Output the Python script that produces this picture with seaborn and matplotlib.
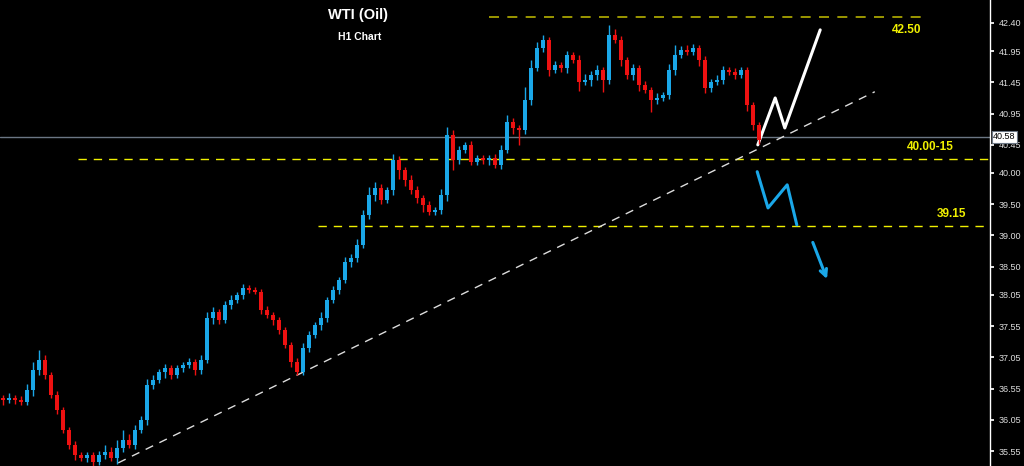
import numpy as np
import pandas as pd
import matplotlib
matplotlib.use('Agg')
import matplotlib.pyplot as plt
import seaborn as sns

sns.set_theme(style='dark')
plt.rcParams['font.family'] = ['Liberation Sans', 'DejaVu Sans']

# hourly closes
closes = [36.37, 36.40, 36.37, 36.34, 36.53, 36.85, 37.01, 36.77, 36.45, 36.21,
          35.89, 35.65, 35.49, 35.44, 35.49, 35.38, 35.49, 35.54, 35.44, 35.60,
          35.73, 35.65, 35.89, 36.05, 36.61, 36.69, 36.82, 36.88, 36.77, 36.88,
          36.93, 36.98, 36.85, 37.01, 37.68, 37.78, 37.65, 37.89, 37.97, 38.05,
          38.16, 38.13, 38.10, 37.81, 37.73, 37.65, 37.49, 37.25, 36.98, 36.82,
          37.20, 37.41, 37.57, 37.68, 37.97, 38.13, 38.29, 38.58, 38.64, 38.85,
          39.33, 39.65, 39.76, 39.57, 39.73, 40.21, 40.05, 39.89, 39.73, 39.60,
          39.49, 39.38, 39.41, 39.65, 40.61, 40.21, 40.37, 40.45, 40.18, 40.24,
          40.21, 40.24, 40.13, 40.37, 40.82, 40.72, 40.69, 41.17, 41.68, 42.00,
          42.13, 41.65, 41.73, 41.68, 41.89, 41.81, 41.46, 41.49, 41.57, 41.65,
          41.49, 42.21, 42.13, 41.81, 41.57, 41.68, 41.41, 41.33, 41.17, 41.20,
          41.25, 41.65, 41.89, 41.97, 41.94, 42.00, 41.81, 41.36, 41.46, 41.49,
          41.65, 41.62, 41.57, 41.65, 41.09, 40.77, 40.53]
wick_up = [0.05, 0.08, 0.04, 0.06, 0.10, 0.12, 0.15, 0.08, 0.05, 0.06,
           0.05, 0.04, 0.06, 0.05, 0.04, 0.05, 0.06, 0.10, 0.08, 0.12,
           0.15, 0.10, 0.08, 0.06, 0.10, 0.08, 0.05, 0.06, 0.05, 0.04,
           0.05, 0.06, 0.05, 0.08, 0.10, 0.08, 0.05, 0.06, 0.08, 0.05,
           0.06, 0.04, 0.05, 0.05, 0.06, 0.05, 0.04, 0.05, 0.05, 0.06,
           0.08, 0.06, 0.05, 0.10, 0.05, 0.06, 0.05, 0.08, 0.06, 0.10,
           0.08, 0.12, 0.10, 0.06, 0.05, 0.10, 0.06, 0.05, 0.08, 0.06,
           0.05, 0.06, 0.05, 0.10, 0.12, 0.08, 0.06, 0.05, 0.06, 0.05,
           0.04, 0.05, 0.06, 0.08, 0.10, 0.06, 0.05, 0.20, 0.12, 0.10,
           0.08, 0.05, 0.06, 0.05, 0.06, 0.05, 0.08, 0.10, 0.06, 0.08,
           0.05, 0.16, 0.10, 0.06, 0.05, 0.06, 0.05, 0.06, 0.05, 0.08,
           0.05, 0.10, 0.15, 0.06, 0.08, 0.06, 0.05, 0.06, 0.05, 0.08,
           0.06, 0.05, 0.06, 0.05, 0.04, 0.05, 0.04]
wick_dn = [0.08, 0.05, 0.06, 0.05, 0.06, 0.10, 0.08, 0.06, 0.05, 0.06,
           0.05, 0.06, 0.08, 0.05, 0.06, 0.08, 0.05, 0.06, 0.05, 0.10,
           0.06, 0.05, 0.06, 0.05, 0.08, 0.06, 0.05, 0.10, 0.06, 0.05,
           0.06, 0.05, 0.08, 0.06, 0.05, 0.10, 0.06, 0.05, 0.06, 0.05,
           0.06, 0.05, 0.04, 0.06, 0.05, 0.08, 0.06, 0.05, 0.08, 0.06,
           0.05, 0.06, 0.05, 0.08, 0.06, 0.05, 0.06, 0.05, 0.08, 0.06,
           0.05, 0.06, 0.10, 0.06, 0.05, 0.08, 0.15, 0.10, 0.06, 0.08,
           0.12, 0.06, 0.05, 0.06, 0.10, 0.16, 0.06, 0.05, 0.06, 0.05,
           0.06, 0.08, 0.05, 0.06, 0.05, 0.10, 0.25, 0.06, 0.08, 0.05,
           0.06, 0.10, 0.05, 0.06, 0.08, 0.05, 0.15, 0.06, 0.10, 0.08,
           0.20, 0.06, 0.05, 0.10, 0.06, 0.08, 0.10, 0.05, 0.20, 0.06,
           0.05, 0.06, 0.08, 0.05, 0.06, 0.05, 0.10, 0.08, 0.06, 0.05,
           0.06, 0.05, 0.06, 0.05, 0.10, 0.08, 0.06]

tick_vals = [42.40, 41.95, 41.45, 40.95, 40.45, 40.00, 39.50, 39.00,
             38.50, 38.05, 37.55, 37.05, 36.55, 36.05, 35.55]
levels = [42.50, 40.22, 39.15]
level_labels = ['42.50', '40.00-15', '39.15']
last_price = 40.58
trend_x = [19.2, 145.3]
trend_y = [35.36, 41.30]
up_path_x = [125.8, 128.7, 130.3, 136.2]
up_path_y = [40.45, 41.20, 40.72, 42.29]
dn_path_x = [125.7, 127.5, 130.7, 132.3]
dn_path_y = [40.02, 39.44, 39.81, 39.17]
dn_arrow = [(134.8, 38.93), (137.5, 38.26)]

df = pd.DataFrame({'close': closes, 'wu': wick_up, 'wd': wick_dn})
df['open'] = df['close'].shift(1).fillna(df['close'].iloc[0] + 0.03)
df['high'] = df[['open', 'close']].max(axis=1) + df['wu']
df['low'] = df[['open', 'close']].min(axis=1) - df['wd']
df['x'] = np.arange(len(df))

fig = plt.figure(figsize=(10.24, 4.66), dpi=100, facecolor='black')
ax = fig.add_axes([0, 0, 990 / 1024, 1])
ax.set_facecolor('black')

BLUE, RED = '#1aa7e8', '#ee1111'
cols = np.where(df['close'] >= df['open'], BLUE, RED)
ax.vlines(df['x'], df['low'], df['high'], colors=cols, lw=1, zorder=3)
body = (df['close'] - df['open']).abs().clip(lower=0.015)
ax.bar(df['x'], body, bottom=df[['open', 'close']].min(axis=1), width=0.65,
       color=cols, linewidth=0, zorder=4)

# levels
ax.axhline(last_price, color='#6b7684', lw=1, zorder=1)
ax.hlines(levels[0], 81, 154, colors='#b5b000', linestyles=(0, (6, 5)), lw=1.2)
ax.hlines(levels[1], 12.5, 170, colors='#f0f000', linestyles=(0, (6, 5)), lw=1)
ax.hlines(levels[2], 52.5, 170, colors='#f0f000', linestyles=(0, (6, 5)), lw=1)
for lv, lab, xp in zip(levels, level_labels, [153, 158.5, 160.5]):
    off = 0.22 if lv == 42.50 else -0.12
    ax.text(xp, lv - off if lv == 42.50 else lv + 0.1, lab, color='#f0f000',
            fontsize=8.5, fontweight='bold', ha='right', va='bottom' if lv != 42.50 else 'center')

sns.lineplot(x=trend_x, y=trend_y, ax=ax, color='#dddddd', lw=1,
             linestyle=(0, (6, 5)), estimator=None, sort=False)
sns.lineplot(x=up_path_x, y=up_path_y, ax=ax, color='white', lw=2.2,
             estimator=None, sort=False)
sns.lineplot(x=dn_path_x, y=dn_path_y, ax=ax, color='#1aa7e8', lw=2.2,
             estimator=None, sort=False)
ax.annotate('', xy=dn_arrow[1], xytext=dn_arrow[0],
            arrowprops=dict(arrowstyle='->', color='#1aa7e8', lw=2.2))

ax.text(59.2, 42.53, 'WTI (Oil)', color='white', fontsize=10.5, fontweight='bold', ha='center', va='center')
ax.text(59.5, 42.17, 'H1 Chart', color='white', fontsize=7.5, fontweight='bold', ha='center', va='center')

ax.set_xlim(-0.5, 164.5)
ax.set_ylim(35.31, 42.768)
ax.yaxis.tick_right()
ax.set_yticks(tick_vals)
ax.set_yticklabels([f'{v:.2f}' for v in tick_vals], color='#dddddd', fontsize=6.5)
ax.tick_params(axis='y', length=3, color='white', pad=3, right=True)
ax.set_xticks([])
for s in ['top', 'left', 'bottom']:
    ax.spines[s].set_visible(False)
ax.spines['right'].set_color('white')
ax.spines['right'].set_linewidth(1)
ax.grid(False)
ax.text(1.003, last_price, f'{last_price:.2f}', transform=ax.get_yaxis_transform(),
        fontsize=6.5, color='black', va='center', ha='left',
        bbox=dict(boxstyle='square,pad=0.15', fc='white', ec='#6b7684', lw=0.8), clip_on=False)

fig.savefig('out.png', dpi=100, facecolor='black')
